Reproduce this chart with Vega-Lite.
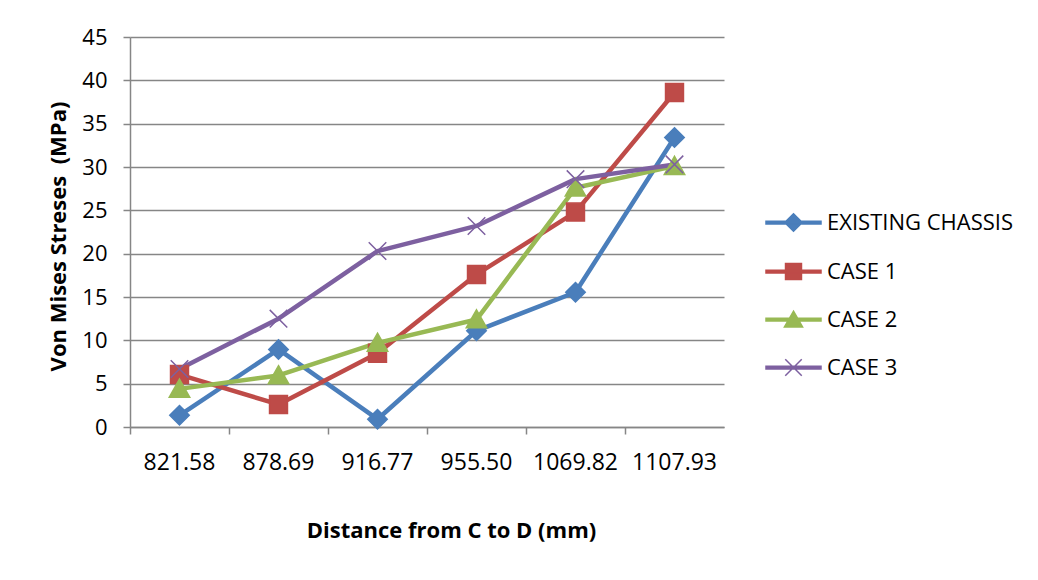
{
  "$schema": "https://vega.github.io/schema/vega-lite/v6.json",
  "width": 594,
  "height": 390,
  "autosize": {"type": "none"},
  "padding": {"left": 130, "top": 37, "right": 314, "bottom": 153},
  "background": "white",
  "config": {
    "font": "Open Sans",
    "view": {"stroke": null},
    "axis": {"labelColor": "#000000", "titleColor": "#000000"}
  },
  "data": {
    "values": [
      {"d": "821.58", "s": "EXISTING CHASSIS", "v": 1.35},
      {"d": "878.69", "s": "EXISTING CHASSIS", "v": 8.95},
      {"d": "916.77", "s": "EXISTING CHASSIS", "v": 0.9},
      {"d": "955.50", "s": "EXISTING CHASSIS", "v": 11.1},
      {"d": "1069.82", "s": "EXISTING CHASSIS", "v": 15.55},
      {"d": "1107.93", "s": "EXISTING CHASSIS", "v": 33.4},
      {"d": "821.58", "s": "CASE 1", "v": 6.05},
      {"d": "878.69", "s": "CASE 1", "v": 2.6},
      {"d": "916.77", "s": "CASE 1", "v": 8.5},
      {"d": "955.50", "s": "CASE 1", "v": 17.6},
      {"d": "1069.82", "s": "CASE 1", "v": 24.8},
      {"d": "1107.93", "s": "CASE 1", "v": 38.6},
      {"d": "821.58", "s": "CASE 2", "v": 4.4},
      {"d": "878.69", "s": "CASE 2", "v": 5.95},
      {"d": "916.77", "s": "CASE 2", "v": 9.7},
      {"d": "955.50", "s": "CASE 2", "v": 12.4},
      {"d": "1069.82", "s": "CASE 2", "v": 27.6},
      {"d": "1107.93", "s": "CASE 2", "v": 30.1},
      {"d": "821.58", "s": "CASE 3", "v": 6.7},
      {"d": "878.69", "s": "CASE 3", "v": 12.5},
      {"d": "916.77", "s": "CASE 3", "v": 20.3},
      {"d": "955.50", "s": "CASE 3", "v": 23.2},
      {"d": "1069.82", "s": "CASE 3", "v": 28.6},
      {"d": "1107.93", "s": "CASE 3", "v": 30.3}
    ]
  },
  "resolve": {
    "axis": {"x": "independent"},
    "scale": {"shape": "independent", "fill": "independent", "stroke": "independent"}
  },
  "layer": [
    {
      "mark": {"type": "line", "strokeWidth": 4.5, "strokeJoin": "round", "strokeCap": "round"},
      "encoding": {
        "x": {
          "field": "d", "type": "nominal", "sort": null,
          "scale": {"type": "band", "paddingInner": 0, "paddingOuter": 0},
          "axis": {
            "orient": "bottom",
            "title": "Distance from C to D (mm)",
            "titleFontSize": 22, "titleFontWeight": "bold",
            "titleX": 321, "titleY": 110, "titleBaseline": "alphabetic", "titleAnchor": "middle", "titleAlign": "center",
            "labelAngle": 0, "labelFontSize": 23, "labelPadding": 24,
            "ticks": false, "domain": true, "domainColor": "#868686", "domainWidth": 1.5,
            "grid": false
          }
        },
        "y": {
          "field": "v", "type": "quantitative",
          "scale": {"domain": [0, 45], "nice": false},
          "axis": {
            "title": "Von Mises Streses \u00a0(MPa)",
            "titleFontSize": 22, "titleFontWeight": "bold",
            "titleX": -72, "titleY": 199, "titleAngle": -90, "titleBaseline": "middle", "titleAlign": "center",
            "values": [0, 5, 10, 15, 20, 25, 30, 35, 40, 45],
            "labelFontSize": 22, "labelPadding": 16,
            "tickSize": 7, "tickColor": "#868686", "tickWidth": 1.5,
            "domain": true, "domainColor": "#868686", "domainWidth": 1.5,
            "grid": true, "gridColor": "#868686", "gridWidth": 1.5
          }
        },
        "stroke": {
          "field": "s", "type": "nominal",
          "scale": {"domain": ["EXISTING CHASSIS", "CASE 1", "CASE 2", "CASE 3"], "range": ["#4a7ebb", "#be4b48", "#98b954", "#7d60a0"]},
          "legend": null
        }
      }
    },
    {
      "mark": {"type": "point", "filled": true, "size": 380, "strokeWidth": 1.5, "opacity": 1},
      "encoding": {
        "x": {"field": "d", "type": "nominal", "sort": null, "axis": null},
        "y": {"field": "v", "type": "quantitative"},
        "shape": {
          "field": "s", "type": "nominal",
          "scale": {
            "domain": ["EXISTING CHASSIS", "CASE 1", "CASE 2", "CASE 3"],
            "range": ["M0,-1L1,0L0,1L-1,0Z", "M-0.92,-0.92H0.92V0.92H-0.92Z", "M0,-1L1.05,0.85H-1.05Z", "M-0.9,-0.9L0.9,0.9M-0.9,0.9L0.9,-0.9"]
          },
          "legend": null
        },
        "fill": {
          "field": "s", "type": "nominal",
          "scale": {"domain": ["EXISTING CHASSIS", "CASE 1", "CASE 2", "CASE 3"], "range": ["#4a7ebb", "#be4b48", "#98b954", "#7d60a0"]},
          "legend": null
        },
        "stroke": {
          "field": "s", "type": "nominal",
          "scale": {"domain": ["EXISTING CHASSIS", "CASE 1", "CASE 2", "CASE 3"], "range": ["#4a7ebb", "#be4b48", "#98b954", "#7d60a0"]},
          "legend": null
        }
      }
    },
    {
      "mark": {"type": "point", "filled": true, "size": 380, "strokeWidth": 1.5, "opacity": 0},
      "encoding": {
        "x": {
          "field": "d", "type": "nominal", "sort": null,
          "axis": {
            "orient": "bottom", "title": null, "labels": false, "domain": false, "grid": false,
            "ticks": true, "bandPosition": 0, "tickSize": 7, "tickColor": "#868686", "tickWidth": 1.5
          }
        },
        "y": {"field": "v", "type": "quantitative"},
        "shape": {
          "field": "s", "type": "nominal",
          "scale": {
            "domain": ["EXISTING CHASSIS", "CASE 1", "CASE 2", "CASE 3"],
            "range": [
              "M-1,-0.05H1V0.05H-1Z M0,-0.32L0.32,0L0,0.32L-0.32,0Z",
              "M-1,-0.05H1V0.05H-1Z M-0.29,-0.29H0.29V0.29H-0.29Z",
              "M-1,-0.05H1V0.05H-1Z M0,-0.3L0.33,0.27H-0.33Z",
              "M-1,-0.05H1V0.05H-1Z M-0.3,-0.3L0.3,0.3M-0.3,0.3L0.3,-0.3"
            ]
          },
          "legend": {
            "orient": "none", "legendX": 635, "legendY": 157, "title": null, "padding": 0,
            "symbolSize": 3025, "symbolStrokeWidth": 1.5, "labelFontSize": 22, "labelColor": "#000000",
            "labelOffset": 5, "rowPadding": 8, "labelLimit": 400,
            "encode": {"symbols": {"update": {"opacity": {"value": 1}, "fillOpacity": {"value": 1}, "strokeOpacity": {"value": 1}}}}
          }
        },
        "fill": {
          "field": "s", "type": "nominal",
          "scale": {"domain": ["EXISTING CHASSIS", "CASE 1", "CASE 2", "CASE 3"], "range": ["#4a7ebb", "#be4b48", "#98b954", "#7d60a0"]},
          "legend": {
            "orient": "none", "legendX": 635, "legendY": 157, "title": null, "padding": 0,
            "symbolSize": 3025, "symbolStrokeWidth": 1.5, "labelFontSize": 22, "labelColor": "#000000",
            "labelOffset": 5, "rowPadding": 8, "labelLimit": 400,
            "encode": {"symbols": {"update": {"opacity": {"value": 1}, "fillOpacity": {"value": 1}, "strokeOpacity": {"value": 1}}}}
          }
        },
        "stroke": {
          "field": "s", "type": "nominal",
          "scale": {"domain": ["EXISTING CHASSIS", "CASE 1", "CASE 2", "CASE 3"], "range": ["#4a7ebb", "#be4b48", "#98b954", "#7d60a0"]},
          "legend": {
            "orient": "none", "legendX": 635, "legendY": 157, "title": null, "padding": 0,
            "symbolSize": 3025, "symbolStrokeWidth": 1.5, "labelFontSize": 22, "labelColor": "#000000",
            "labelOffset": 5, "rowPadding": 8, "labelLimit": 400,
            "encode": {"symbols": {"update": {"opacity": {"value": 1}, "fillOpacity": {"value": 1}, "strokeOpacity": {"value": 1}}}}
          }
        }
      }
    }
  ]
}
